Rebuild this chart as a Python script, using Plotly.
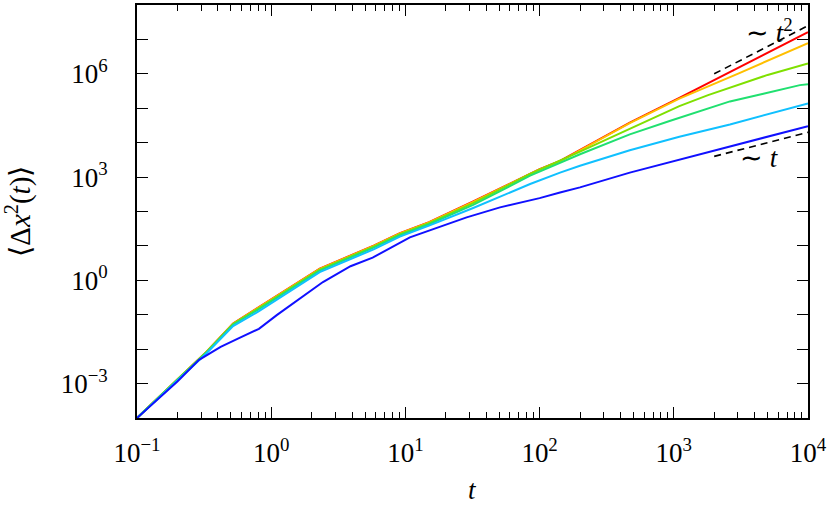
import plotly.graph_objects as go

# mean squared displacement curves
t_red = [0.1, 0.2, 0.33, 0.52, 0.8, 2.3, 5.8, 9.1, 15, 32, 100, 142, 470, 930, 1100, 10000]
y_red = [1.0e-4, 1.29e-3, 8.5e-3, 0.056, 0.162, 2.19, 10.2, 23.4, 49, 195, 1700, 2950, 3.8e4, 1.45e5, 2.0e5, 1.62e7]

t_orange = [0.1, 0.2, 0.33, 0.52, 0.8, 2.3, 5.8, 9.1, 15, 32, 100, 142, 470, 930, 1100, 3080, 10000]
y_orange = [1.0e-4, 1.29e-3, 8.4e-3, 0.055, 0.158, 2.14, 10.0, 23.0, 48, 190, 1660, 2880, 3.72e4, 1.42e5, 1.9e5, 1.05e6, 7.8e6]

t_green = [0.1, 0.2, 0.33, 0.52, 0.8, 2.3, 5.8, 9.1, 15, 32, 85, 200, 470, 930, 1100, 1800, 2620, 5000, 10000]
y_green = [1.0e-4, 1.29e-3, 8.3e-3, 0.0537, 0.151, 2.04, 9.55, 21.9, 45.7, 174, 1230, 5500, 2.51e4, 8.9e4, 1.15e5, 2.4e5, 4.0e5, 9.3e5, 2.0e6]

t_spring = [0.1, 0.2, 0.33, 0.52, 0.8, 2.3, 5.8, 9.1, 15, 32, 85, 200, 470, 930, 1100, 2620, 4650, 6550, 8700, 10000]
y_spring = [1.0e-4, 1.29e-3, 8.1e-3, 0.0513, 0.141, 1.91, 8.9, 20.4, 42.7, 155, 1100, 4620, 1.74e4, 4.27e4, 5.25e4, 1.58e5, 2.63e5, 3.7e5, 4.7e5, 5.0e5]

t_sky = [0.1, 0.2, 0.33, 0.52, 0.8, 2.3, 5.8, 9.1, 15, 32, 85, 142, 200, 470, 930, 1100, 2620, 10000]
y_sky = [1.0e-4, 1.26e-3, 7.6e-3, 0.0468, 0.123, 1.74, 7.94, 18.6, 38.9, 126, 631, 1350, 2140, 6030, 1.26e4, 1.48e4, 3.39e4, 1.38e5]

t_blue = [0.1, 0.2, 0.29, 0.42, 0.56, 0.81, 1.1, 2.0, 2.43, 3.9, 5.7, 10.8, 28.6, 50.7, 100, 142, 200, 470, 930, 1100, 2620, 10000]
y_blue = [1.0e-4, 1.15e-3, 4.9e-3, 0.0117, 0.02, 0.0389, 0.0977, 0.513, 0.891, 2.57, 4.57, 17.8, 67.6, 132, 245, 355, 501, 1350, 2690, 3090, 7590, 3.02e4]

# guide lines ~t^2 and ~t
t_guide = [2000, 10000]
y_guide_t2 = [1.0e6, 2.5e7]
y_guide_t1 = [4.0e3, 2.0e4]

x_tick_vals = [0.1, 1, 10, 100, 1000, 10000]
x_tick_text = ["10<sup>−1</sup>", "10<sup>0</sup>", "10<sup>1</sup>", "10<sup>2</sup>", "10<sup>3</sup>", "10<sup>4</sup>"]
y_tick_vals = [1e-4, 1e-3, 1e-2, 1e-1, 1, 10, 100, 1e3, 1e4, 1e5, 1e6, 1e7, 1e8]
y_tick_text = ["", "10<sup>−3</sup>", "", "", "10<sup>0</sup>", "", "", "10<sup>3</sup>", "", "", "10<sup>6</sup>", "", ""]

FONT = "Liberation Serif, Times New Roman, serif"

curves = [
    (t_red, y_red, "#ff0000"),
    (t_orange, y_orange, "#ffbf00"),
    (t_green, y_green, "#7fe000"),
    (t_spring, y_spring, "#20e070"),
    (t_sky, y_sky, "#10c0ff"),
    (t_blue, y_blue, "#1010ff"),
]

fig = go.Figure()
for tt, yy, col in curves:
    fig.add_trace(go.Scatter(x=tt, y=yy, mode="lines", line=dict(color=col, width=2), showlegend=False))

fig.add_trace(go.Scatter(x=t_guide, y=y_guide_t2, mode="lines",
                         line=dict(color="black", width=1.6, dash="7px,5px"), showlegend=False))
fig.add_trace(go.Scatter(x=t_guide, y=y_guide_t1, mode="lines",
                         line=dict(color="black", width=1.6, dash="7px,5px"), showlegend=False))

axis_common = dict(
    showgrid=False, zeroline=False, showline=True, linecolor="black", linewidth=1.6,
    mirror="ticks", ticks="inside", tickcolor="black", tickwidth=1.4, ticklen=11,
    tickfont=dict(family=FONT, size=27, color="black"),
)

fig.update_xaxes(type="log", range=[-1, 4], tickvals=x_tick_vals, ticktext=x_tick_text,
                 minor=dict(ticks="inside", ticklen=6, tickwidth=1.2, tickcolor="black", dtick="D1"),
                 ticklabelstandoff=10, **axis_common)
fig.update_yaxes(type="log", range=[-4, 8], tickvals=y_tick_vals, ticktext=y_tick_text,
                 ticklabelstandoff=22, **axis_common)

fig.add_annotation(x=3.71, y=7.25, xref="x", yref="y", text="∼ <i>t</i><sup>2</sup>", showarrow=False,
                   font=dict(family=FONT, size=27, color="black"))
fig.add_annotation(x=3.642, y=3.556, xref="x", yref="y", text="∼ <i>t</i>", showarrow=False,
                   font=dict(family=FONT, size=27, color="black"))

# axis titles
fig.add_annotation(x=0.5, y=-0.175, xref="paper", yref="paper", text="<i>t</i>", showarrow=False,
                   yanchor="middle", font=dict(family=FONT, size=27, color="black"))
fig.add_annotation(x=-0.177, y=0.5, xref="paper", yref="paper",
                   text="⟨Δ<i>x</i><sup>2</sup>(<i>t</i>)⟩", textangle=-90, showarrow=False,
                   xanchor="center", font=dict(family=FONT, size=29, color="black"))

fig.update_layout(
    width=832, height=510,
    margin=dict(l=137, r=24, t=3, b=92),
    plot_bgcolor="white", paper_bgcolor="white",
)

# page body has a default 8px margin; drop it so the figure sits at the window corner
fig.write_html("out.html", config={"displayModeBar": False},
               post_script="document.body.style.margin='0px';")
